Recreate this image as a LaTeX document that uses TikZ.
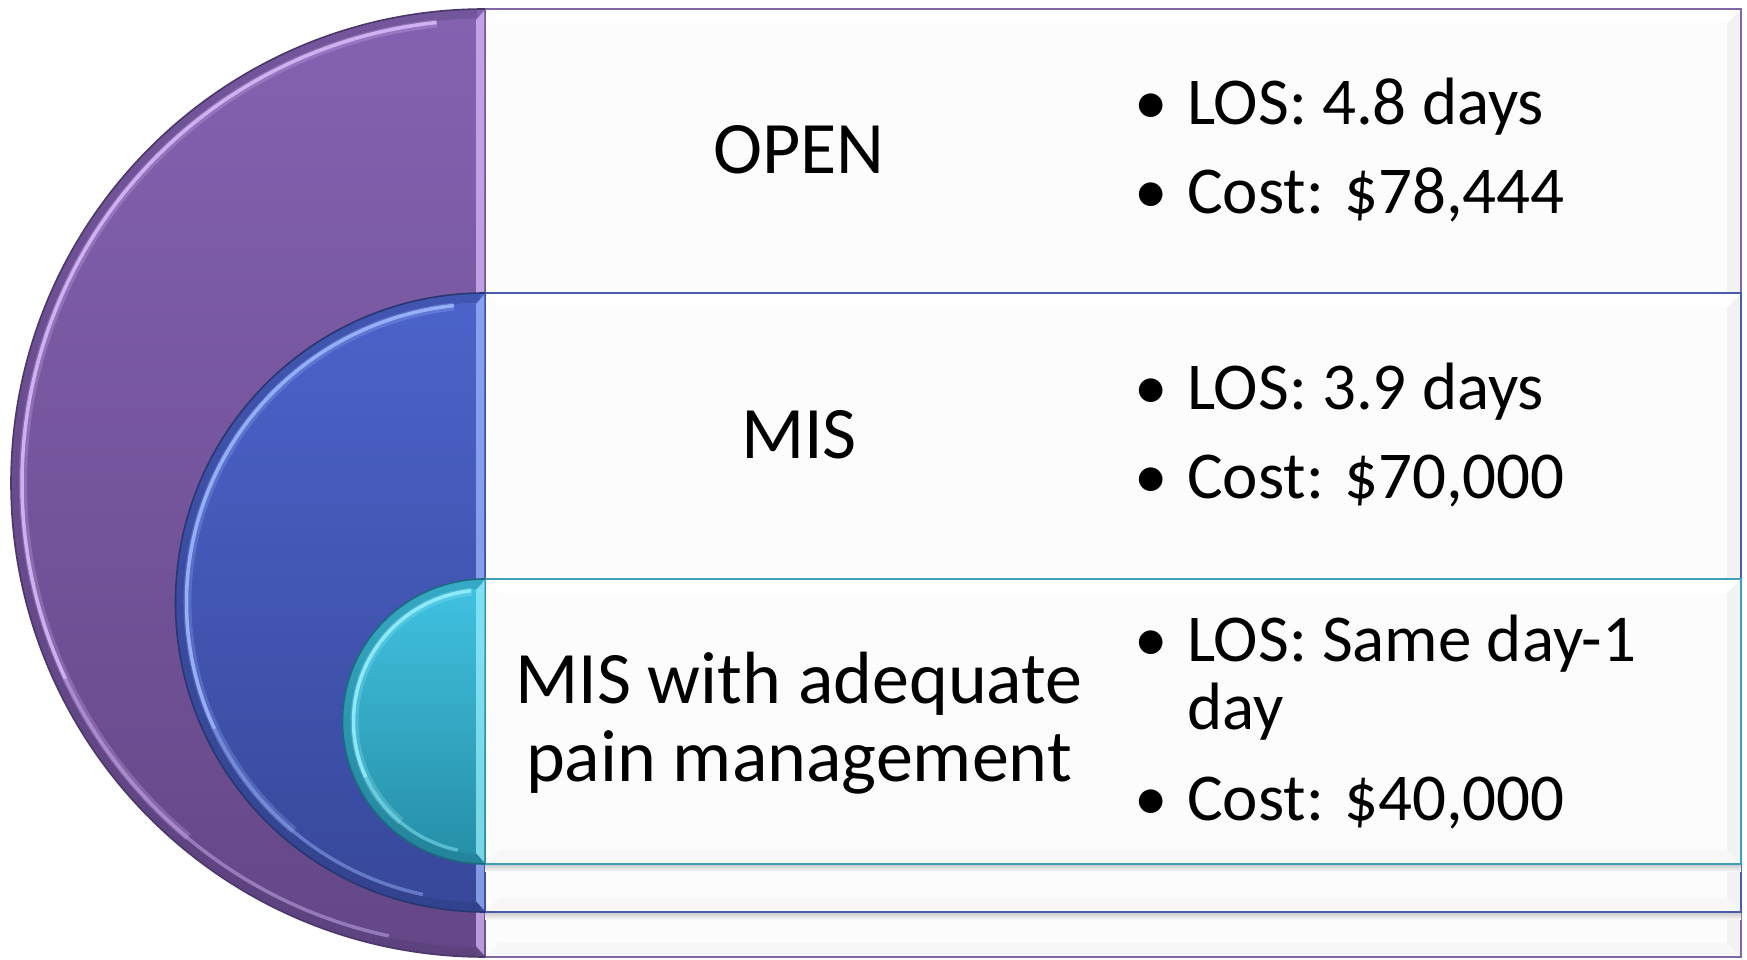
\documentclass[tikz,border=0pt]{standalone}
\usepackage{fontspec}
\setmainfont{Carlito}

% ring colours
\definecolor{purpTop}{HTML}{8562B1}
\definecolor{purpBot}{HTML}{644787}
\definecolor{purpEdge}{HTML}{4B376A}
\definecolor{purpHi}{HTML}{D6B8F8}
\definecolor{purpLine}{HTML}{8068A8}
\definecolor{bluTop}{HTML}{4C63CA}
\definecolor{bluBot}{HTML}{37489A}
\definecolor{bluEdge}{HTML}{283672}
\definecolor{bluHi}{HTML}{9CB6FC}
\definecolor{bluLine}{HTML}{4A5CAE}
\definecolor{cyaTop}{HTML}{41C2E2}
\definecolor{cyaBot}{HTML}{268EA6}
\definecolor{cyaEdge}{HTML}{1C6A7E}
\definecolor{cyaHi}{HTML}{94EEFB}
\definecolor{cyaLine}{HTML}{3E9FB8}

% white panel with a faint bevel: x1, y1 (lower left), x2, y2 (upper right), border colour
\newcommand\panel[5]{%
  \fill[black!1] (#1,#2) rectangle (#3,#4);
  \fill[black!5] (#3,#4) -- ({#3-14},{#4-14}) -- ({#3-14},{#2+14}) -- (#3,#2) -- cycle;
  \fill[black!3] (#1,#2) -- ({#1+14},{#2+14}) -- ({#3-14},{#2+14}) -- (#3,#2) -- cycle;
  \fill[white] (#1,#4) -- ({#1+14},{#4-14}) -- ({#3-14},{#4-14}) -- (#3,#4) -- cycle;
  \draw[line width=2, #5] (#1,#2) rectangle (#3,#4);
}

% soft shadow under a panel: x1, x2, bottom y
\newcommand\panelshadow[3]{%
  \fill[top color=black!22, bottom color=black!1] (#1,#3) rectangle (#2,{#3-8});
}

% bevelled half disc on the line x=485: centre y, radius, top, bottom, edge, highlight
\newcommand\halfdisc[6]{%
  \fill[top color=#3, bottom color=#4] (485,{#1+#2}) arc[start angle=90, end angle=270, radius=#2] -- cycle;
  \draw[#5, opacity=.28, line width=9] ({485+(#2-5)*cos(91)},{#1+(#2-5)*sin(91)}) arc[start angle=91, end angle=269, radius={#2-5}];
  \draw[#6, line width=8, opacity=.25] ({485+(#2-12)*cos(96)},{#1+(#2-12)*sin(96)}) arc[start angle=96, end angle=230, radius={#2-12}];
  \draw[#6, line width=3.5, opacity=.9] ({485+(#2-11)*cos(96)},{#1+(#2-11)*sin(96)}) arc[start angle=96, end angle=205, radius={#2-11}];
  \draw[#6, line width=3.5, opacity=.45] ({485+(#2-11)*cos(205)},{#1+(#2-11)*sin(205)}) arc[start angle=205, end angle=258, radius={#2-11}];
  \fill[#6, opacity=.75] (484,{#1+#2-2}) -- (484,{#1-#2+2}) -- (476,{#1-#2+11}) -- (476,{#1+#2-11}) -- cycle;
  \draw[#5, line width=1.6] (485,{#1+#2}) arc[start angle=90, end angle=270, radius=#2];
}

\begin{document}
\begin{tikzpicture}[x=1pt, y=1pt,
  lead/.style={font=\fontsize{74}{78}\selectfont, inner sep=0pt, anchor=base},
  item/.style={font=\fontsize{67}{70}\selectfont, inner sep=0pt, anchor=base west},
  dot/.style={font=\fontsize{67}{70}\selectfont, inner sep=0pt, anchor=base}]
\useasboundingbox (0,0) rectangle (1747,960);
\fill[white] (0,0) rectangle (1747,960);

% outer ring: OPEN
\panel{485}{3}{1741}{951}{purpLine}
\halfdisc{477}{474}{purpTop}{purpBot}{purpEdge}{purpHi}

% middle ring: MIS
\panelshadow{485}{1741}{48}
\panel{485}{48}{1741}{667}{bluLine}
\halfdisc{357.5}{309.5}{bluTop}{bluBot}{bluEdge}{bluHi}

% inner ring: MIS with adequate pain management
\panelshadow{485}{1741}{96}
\panel{485}{96}{1741}{381}{cyaLine}
\halfdisc{238.5}{142.5}{cyaTop}{cyaBot}{cyaEdge}{cyaHi}

% labels
\node[lead] (open) at (799,786) {OPEN};
\node[lead] (mis) at (799,501) {MIS};
\node[lead] (misA) at (799,256) {MIS with adequate};
\node[lead] (misB) at (799,178) {pain management};

% bullet lists
\node[dot] (d1) at (1151,835) {•};
\node[item] (t1) at (1187,835) {LOS: 4.8 days};
\node[dot] (d2) at (1151,746) {•};
\node[item] (t2) at (1187,746) {Cost: \$78,444};

\node[dot] (d3) at (1151,550) {•};
\node[item] (t3) at (1187,550) {LOS: 3.9 days};
\node[dot] (d4) at (1151,461) {•};
\node[item] (t4) at (1187,461) {Cost: \$70,000};

\node[dot] (d5) at (1151,298) {•};
\node[item] (t5) at (1187,298) {LOS: Same day-1};
\node[item] (t5b) at (1187,230) {day};
\node[dot] (d6) at (1151,139) {•};
\node[item] (t6) at (1187,139) {Cost: \$40,000};
\end{tikzpicture}
\end{document}
